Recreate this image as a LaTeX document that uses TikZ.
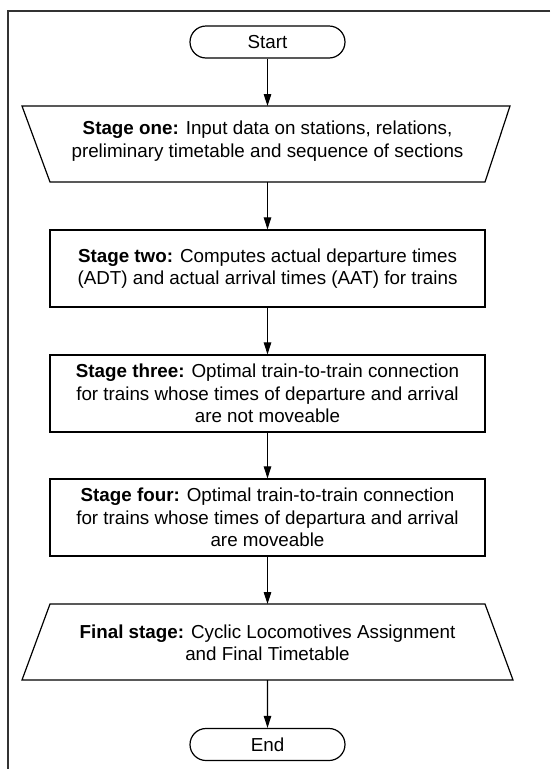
\documentclass[tikz,border=0pt]{standalone}
\usepackage{fontspec}
\setmainfont{Liberation Sans}
\usetikzlibrary{shapes.misc,shapes.geometric,arrows.meta}
\begin{document}
\begin{tikzpicture}[x=1pt,y=-1pt,
  every node/.style={font=\fontsize{18.8}{22.5}\selectfont, align=center, inner sep=0pt},
  term/.style={draw=black, line width=1.2pt, rounded rectangle, minimum width=155pt, minimum height=32pt},
  procbox/.style={draw=black, line width=1.2pt, rectangle, minimum width=435pt, minimum height=77pt},
  shapeline/.style={draw=black, line width=1.2pt},
  arr/.style={draw=black, line width=1.1pt, -{Triangle[length=12pt,width=7.5pt]}},
  frame/.style={draw=black!80, line width=2pt}
  ]
\useasboundingbox (0,0) rectangle (550,769);
\draw[frame] (550,10.5) -- (7.5,10.5) -- (7.5,769);
\node[term] (start) at (267.5,42) {Start};
\draw[shapeline] (22,106) -- (510,106) -- (485,182) -- (50,182) -- cycle;
\coordinate (s1top) at (267.5,106);
\coordinate (s1bot) at (267.5,182);
\node (s1) at (267.5,141) {\textbf{Stage one:} Input data on stations, relations,\\preliminary timetable and sequence of sections};
\node[procbox] (s2) at (267.5,268.5) {\textbf{Stage two:} Computes actual departure times\\(ADT) and actual arrival times (AAT) for trains};
\node[procbox] (s3) at (267.5,393.5) {\textbf{Stage three:} Optimal train-to-train connection\\for trains whose times of departure and arrival\\are not moveable};
\node[procbox] (s4) at (267.5,517.5) {\textbf{Stage four:} Optimal train-to-train connection\\for trains whose times of departura and arrival\\are moveable};
\draw[shapeline] (50,604) -- (485,604) -- (513,680) -- (22,680) -- cycle;
\coordinate (s5top) at (267.5,604);
\coordinate (s5bot) at (267.5,680);
\node (s5) at (267.5,643) {\textbf{Final stage:} Cyclic Locomotives Assignment\\and Final Timetable};
\node[term] (end) at (267.5,744.5) {End};
\draw[arr] (start) -- (s1top);
\draw[arr] (s1bot) -- (s2);
\draw[arr] (s2) -- (s3);
\draw[arr] (s3) -- (s4);
\draw[arr] (s4) -- (s5top);
\draw[arr] (s5bot) -- (end);
\end{tikzpicture}
\end{document}
